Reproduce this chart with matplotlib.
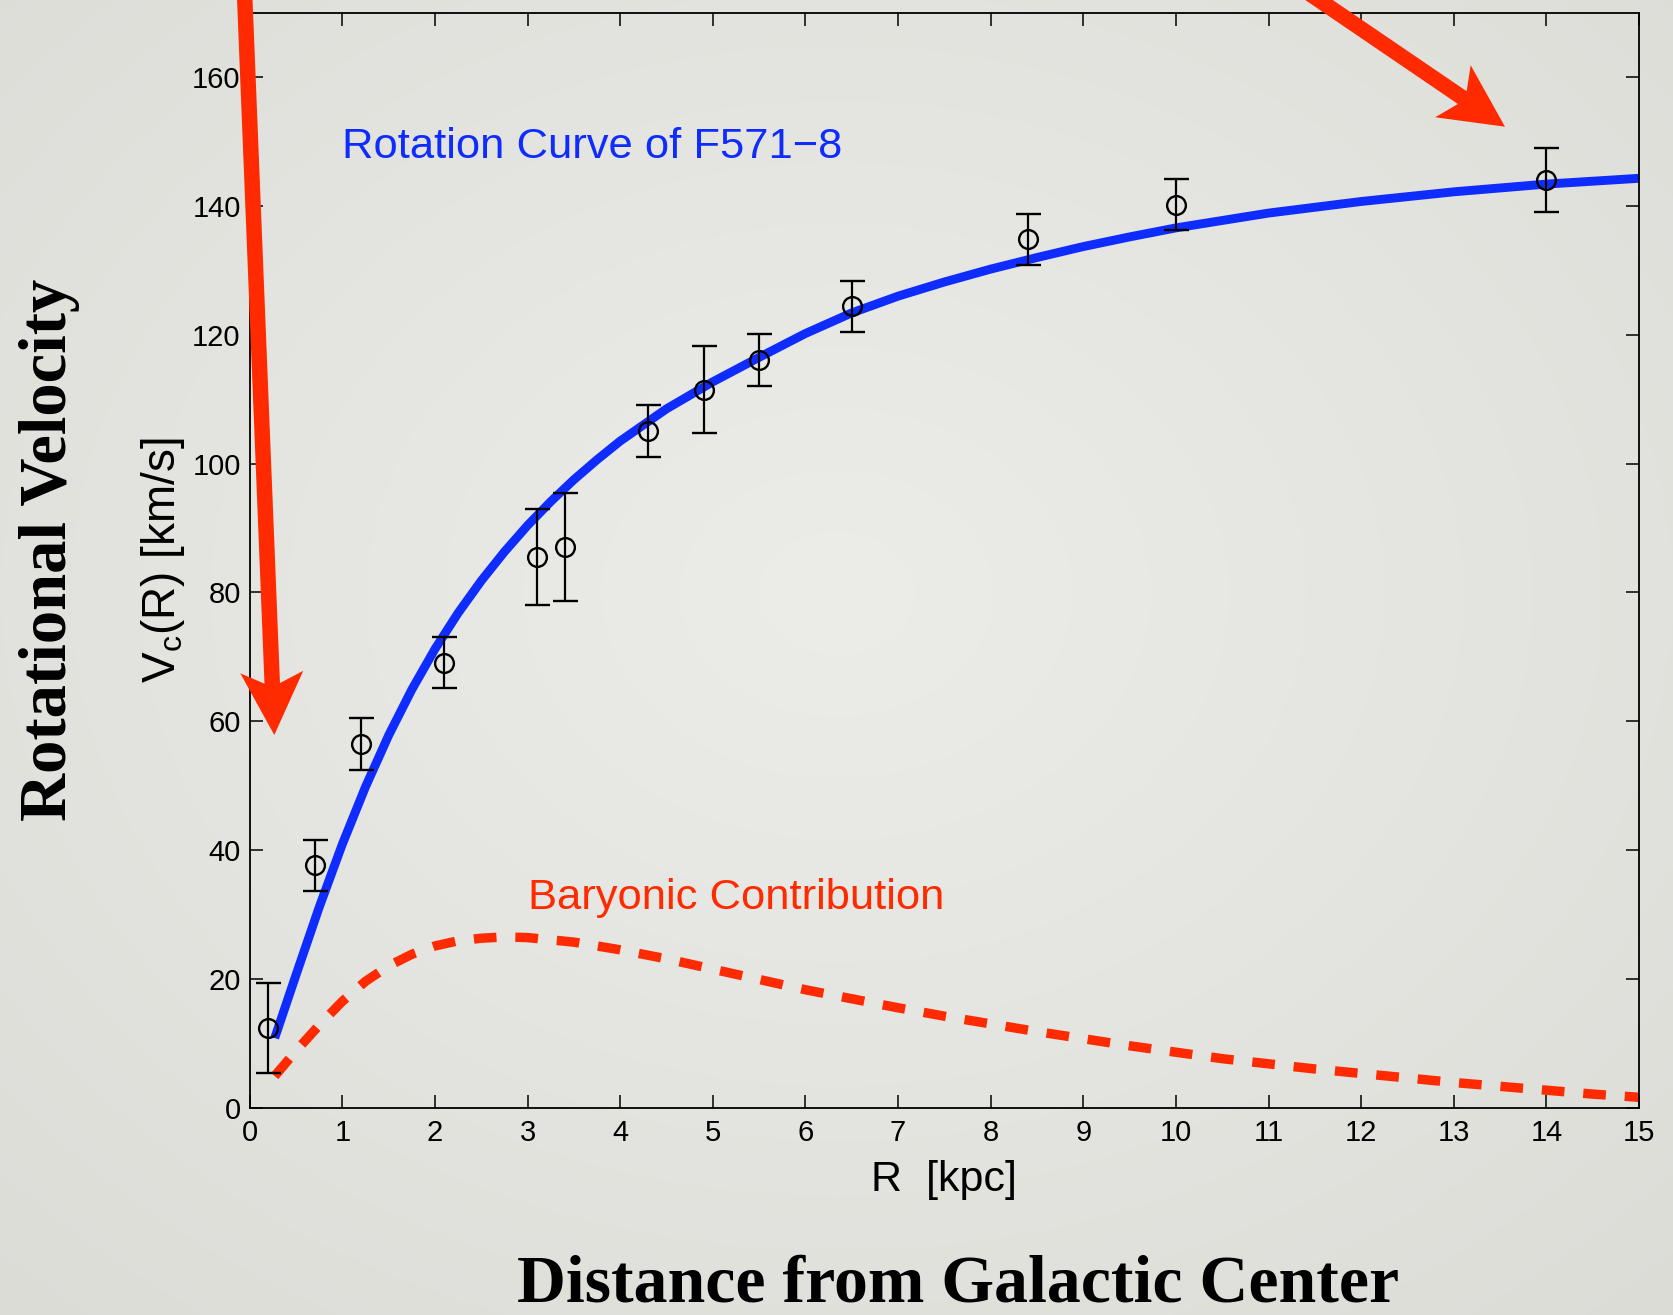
import numpy as np
import matplotlib
matplotlib.use("Agg")
import matplotlib.pyplot as plt
from matplotlib.patches import Polygon

plt.rcParams["font.family"] = ["Liberation Sans", "DejaVu Sans"]
plt.rcParams["mathtext.fontset"] = "custom"
plt.rcParams["mathtext.rm"] = "Liberation Sans"
plt.rcParams["mathtext.it"] = "Liberation Sans"

# Observed rotation curve of F571-8
radius_kpc = [0.2, 0.7, 1.2, 2.1, 3.1, 3.4, 4.3, 4.9, 5.5, 6.5, 8.4, 10.0, 14.0]
velocity_kms = [12.4, 37.6, 56.5, 69.1, 85.5, 87.1, 105.1, 111.5, 116.1, 124.4, 134.8, 140.2, 144.0]
velocity_err = [7.0, 4.0, 4.0, 4.0, 7.5, 8.4, 4.0, 6.7, 4.0, 4.0, 4.0, 4.0, 5.0]

# Fitted total rotation curve
model_r = [0.27, 0.5, 0.75, 1.0, 1.25, 1.5, 1.75, 2.0, 2.25, 2.5, 2.75, 3.0, 3.25, 3.5,
           3.75, 4.0, 4.5, 5.0, 5.5, 6.0, 6.5, 7.0, 7.5, 8.0, 8.5, 9.0, 9.5, 10.0,
           11.0, 12.0, 13.0, 14.0, 15.0]
model_v = [10.8, 20.6, 31.1, 40.9, 49.8, 57.8, 64.9, 71.2, 76.8, 81.8, 86.3, 90.4, 94.1, 97.5,
           100.6, 103.5, 108.5, 112.7, 116.5, 120.2, 123.4, 126.0, 128.2, 130.2, 132.0, 133.7, 135.2, 136.6,
           138.9, 140.7, 142.2, 143.4, 144.3]

# Baryonic (stars + gas) contribution
baryon_r = [0.27, 0.5, 0.75, 1.0, 1.25, 1.5, 1.75, 2.0, 2.25, 2.5, 2.75, 3.0, 3.5,
            4.0, 4.5, 5.0, 5.5, 6.0, 6.5, 7.0, 7.5, 8.0, 8.5, 9.0, 9.5, 10.0,
            10.5, 11.0, 11.5, 12.0, 12.5, 13.0, 13.5, 14.0, 14.5, 15.0]
baryon_v = [4.9, 8.8, 12.8, 16.5, 19.6, 22.0, 23.8, 25.1, 25.9, 26.3, 26.5, 26.4, 25.7,
            24.5, 23.1, 21.5, 19.9, 18.3, 16.9, 15.5, 14.2, 13.0, 11.8, 10.7, 9.6, 8.6,
            7.6, 6.8, 6.0, 5.3, 4.6, 3.9, 3.3, 2.7, 2.1, 1.6]

x_ticks = list(range(0, 16))
y_ticks = list(range(0, 161, 20))

W, H = 1673, 1315
BLUE = "#0f2cff"
RED = "#ff2a00"

fig = plt.figure(figsize=(W / 100, H / 100), dpi=100)

# soft slide background
bg = fig.add_axes([0, 0, 1, 1], zorder=-10)
yy, xx = np.mgrid[0:H:4, 0:W:4]
d = np.sqrt(((xx - W * 0.5) / W) ** 2 + ((yy - H * 0.45) / H) ** 2)
shade = np.clip(d / 0.75, 0, 1)
c0 = np.array([236, 236, 233]) / 255.0
c1 = np.array([220, 220, 215]) / 255.0
img = c0[None, None, :] * (1 - shade[..., None]) + c1[None, None, :] * shade[..., None]
bg.imshow(img, extent=[0, 1, 0, 1], aspect="auto", interpolation="bilinear")
bg.set_axis_off()

ax = fig.add_axes([249.7 / W, 1 - 1107.6 / H, (1639 - 249.7) / W, (1107.6 - 12.8) / H])
ax.patch.set_alpha(0)

ax.plot(model_r, model_v, color=BLUE, lw=6.4, solid_capstyle="butt",
        solid_joinstyle="round", zorder=2)
ax.plot(baryon_r, baryon_v, color=RED, lw=6.8, linestyle=(0, (2.4, 2.0)),
        dash_capstyle="butt", zorder=2)
ax.errorbar(radius_kpc, velocity_kms, yerr=velocity_err, fmt="o", ms=13.5,
            mfc="none", mec="black", mew=1.7, ecolor="black", elinewidth=1.6,
            capsize=9, capthick=1.6, zorder=3)

ax.set_xlim(0, 15)
ax.set_ylim(0, 170)
ax.set_xticks(x_ticks)
ax.set_yticks(y_ticks)
ax.tick_params(direction="in", length=9.5, width=1.1, top=True, right=True,
               labelsize=21, colors="black")
ax.tick_params(axis="x", pad=8.5)
ax.tick_params(axis="y", pad=6.5)
for s in ax.spines.values():
    s.set_linewidth(1.3)

ax.set_xlabel("R  [kpc]", fontsize=31)
ax.xaxis.set_label_coords(0.5, -0.048)
ax.set_ylabel(r"V$_\mathrm{c}$(R) [km/s]", fontsize=33)
ax.yaxis.set_label_coords(-0.045, 0.5)

ax.text(1.0, 147.4, "Rotation Curve of F571\u22128", color=BLUE, fontsize=31.3,
        ha="left", va="baseline")
ax.text(3.0, 30.8, "Baryonic Contribution", color=RED, fontsize=31.3,
        ha="left", va="baseline")

fig.text(50 / W, 1 - 550 / H, "Rotational Velocity", rotation=90, ha="center",
         va="center", fontsize=48, fontweight="bold", family="Liberation Serif")
fig.text(958 / W, 1 - 1301 / H, "Distance from Galactic Center", ha="center",
         va="baseline", fontsize=48.8, fontweight="bold", family="Liberation Serif")

# pointer arrows drawn in figure pixel space
ov = fig.add_axes([0, 0, 1, 1], zorder=10)
ov.set_xlim(0, W)
ov.set_ylim(H, 0)
ov.set_axis_off()
ov.patch.set_alpha(0)


def arrow_poly(tail, tip, shaft_w=15.5, head_len=63, head_w=63, notch=15):
    tail = np.asarray(tail, float)
    tip = np.asarray(tip, float)
    u = (tip - tail) / np.linalg.norm(tip - tail)
    n = np.array([-u[1], u[0]])
    back = tip - u * head_len
    joint = back + u * notch * (1 - shaft_w / head_w)
    pts = [tail + n * shaft_w / 2, joint + n * shaft_w / 2, back + n * head_w / 2,
           tip, back - n * head_w / 2, joint - n * shaft_w / 2, tail - n * shaft_w / 2]
    return pts


for tail, tip in [((244, -20), (274.3, 735)), ((1294, -17), (1505, 126.7))]:
    ov.add_patch(Polygon(arrow_poly(tail, tip), closed=True, facecolor=RED,
                         edgecolor="none"))

fig.savefig("out.png", dpi=100)
